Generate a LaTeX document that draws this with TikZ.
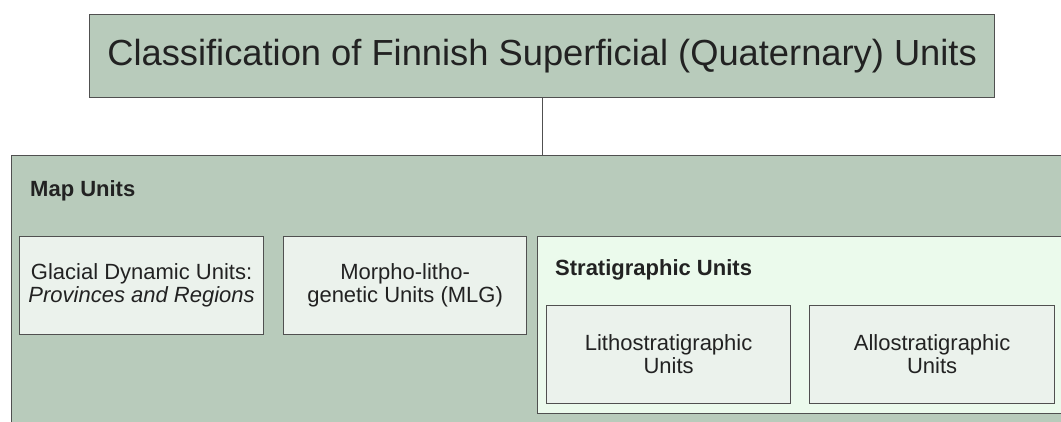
\documentclass[tikz,border=0pt]{standalone}
\usepackage{fontspec}
\setmainfont{Liberation Sans}
\usetikzlibrary{positioning}
\definecolor{mapgreen}{HTML}{B8CBBB}
\definecolor{unitfill}{HTML}{EBF2EC}
\definecolor{stratfill}{HTML}{EBFAEC}
\definecolor{boxline}{HTML}{505050}
\definecolor{txt}{HTML}{222222}
\tikzset{%
	frame/.style   = {draw=boxline, line width=1.2pt, rectangle, anchor=north west, inner sep=0pt},
	titlebox/.style= {frame, fill=mapgreen, minimum width=905pt, minimum height=83pt, text=txt, font=\fontsize{36.3}{40}\selectfont},
	unit/.style    = {frame, fill=unitfill, minimum width=244pt, minimum height=98pt, align=center, text=txt, font=\fontsize{22}{23}\selectfont},
	heading/.style = {anchor=base west, inner sep=0pt, text=txt, font=\fontsize{22}{23}\selectfont\bfseries},
}

\begin{document}
\begin{tikzpicture}[x=1pt,y=-1pt]
	\clip (0,0) rectangle (1061,421);
	\node[titlebox] (title) at (89,14) {Classification of Finnish Superficial (Quaternary) Units};
	\node[frame, fill=mapgreen, minimum width=1061pt, minimum height=275pt] (map) at (11,155) {};
	\node[heading] (maplbl) at (30,196) {Map Units};
	
	\node[unit] (glacial) at (19,236) {Glacial Dynamic Units:\\\textit{Provinces and Regions}};
	\node[unit, minimum width=243pt] (mlg) at (283,236) {Morpho-litho-\\genetic Units (MLG)};
	
	\node[frame, fill=stratfill, minimum width=530pt, minimum height=177pt] (strat) at (537,236) {};
	\node[heading] (stratlbl) at (555,275) {Stratigraphic Units};
	\node[unit] (litho) at (546,305) {Lithostratigraphic\\Units};
	\node[unit, minimum width=245pt] (allo) at (809,305) {Allostratigraphic\\Units};
	
	\draw[boxline, line width=1pt] (title.south) -- (map.north);
\end{tikzpicture}
\end{document}
